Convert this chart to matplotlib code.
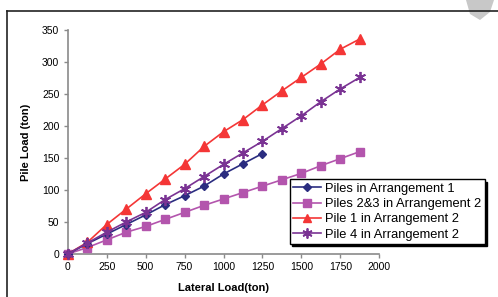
import matplotlib
matplotlib.use("Agg")
import matplotlib.pyplot as plt
from matplotlib.lines import Line2D
from matplotlib.patches import Polygon

plt.rcParams['font.family'] = ['Liberation Sans', 'DejaVu Sans']

lateral_load = [0, 125, 250, 375, 500, 625, 750, 875, 1000, 1125, 1250, 1375, 1500, 1625, 1750, 1875]
arr1 = [0, 16, 31, 46, 61, 77, 91, 106, 125, 141, 157]
piles23 = [0, 10, 22, 34, 43, 54, 65, 76, 86, 96, 106, 116, 126, 138, 149, 160]
pile1 = [0, 18, 46, 70, 94, 117, 140, 168, 191, 210, 233, 255, 276, 297, 320, 336]
pile4 = [0, 17, 34, 50, 65, 85, 102, 121, 140, 158, 176, 196, 216, 238, 258, 276]

labels = ["Piles in Arrangement 1", "Piles 2&3 in Arrangement 2",
          "Pile 1 in Arrangement 2", "Pile 4 in Arrangement 2"]
xticks = [0, 250, 500, 750, 1000, 1250, 1500, 1750, 2000]
yticks = [0, 50, 100, 150, 200, 250, 300, 350]

W, H = 498, 297
fig = plt.figure(figsize=(W / 100, H / 100), dpi=100)

# outer frame (left & top visible)
fig.add_artist(Line2D([7 / W, 7 / W], [0, 1 - 10.5 / H], transform=fig.transFigure, color='#222222', lw=1.2))
fig.add_artist(Line2D([7 / W, 1], [1 - 10.5 / H, 1 - 10.5 / H], transform=fig.transFigure, color='#222222', lw=1.2))
# grey shape at top right
fig.add_artist(Polygon([[466 / W, 1], [494 / W, 1], [490 / W, 1 - 12 / H], [480 / W, 1 - 20 / H], [470 / W, 1 - 14 / H]],
                       closed=True, transform=fig.transFigure, color='#c8c8c8', lw=0))

ax = fig.add_axes([67.7 / W, 1 - 254 / H, (379.3 - 67.7) / W, (254 - 30) / H])
ax.set_xlim(0, 2000)
ax.set_ylim(0, 350)

n1 = len(arr1)
ax.plot(lateral_load[:n1], arr1, color='#2b2d80', marker='D', markersize=4.5, lw=1.2, label=labels[0], clip_on=False, zorder=4)
ax.plot(lateral_load, piles23, color='#b355ad', marker='s', markersize=6, lw=1.2, label=labels[1], clip_on=False, zorder=3)
ax.plot(lateral_load, pile1, color='#f43636', marker='^', markersize=7, lw=1.2, label=labels[2], clip_on=False, zorder=3)
ax.plot(lateral_load, pile4, color='#7a3393', marker=(6, 2, 0), markersize=8, markeredgewidth=1.3, lw=1.2,
        label=labels[3], clip_on=False, zorder=5)

for s in ['top', 'right']:
    ax.spines[s].set_visible(False)
for s in ['left', 'bottom']:
    ax.spines[s].set_color('#8a8a8a')
    ax.spines[s].set_linewidth(1.2)
ax.set_xticks(xticks)
ax.set_yticks(yticks)
ax.tick_params(direction='out', length=3, width=1, color='#8a8a8a', labelsize=7.5, pad=3)
ax.set_xlabel("Lateral Load(ton)", fontsize=8, fontweight='bold', labelpad=8)
ax.set_ylabel("Pile Load (ton)", fontsize=8, fontweight='bold', labelpad=8)

leg = fig.legend(loc='upper left', bbox_to_anchor=(289.5 / W, 1 - 179.5 / H), fontsize=9.3,
                 frameon=True, fancybox=False, shadow={'color': 'black', 'alpha': 1, 'ox': 1.5, 'oy': -1.5},
                 borderpad=0.25, labelspacing=0.25, handlelength=2.2, handletextpad=0.3, borderaxespad=0,
                 markerscale=0.9)
leg.get_frame().set_edgecolor('black')
leg.get_frame().set_linewidth(1.0)

fig.savefig("out.png", dpi=100)
